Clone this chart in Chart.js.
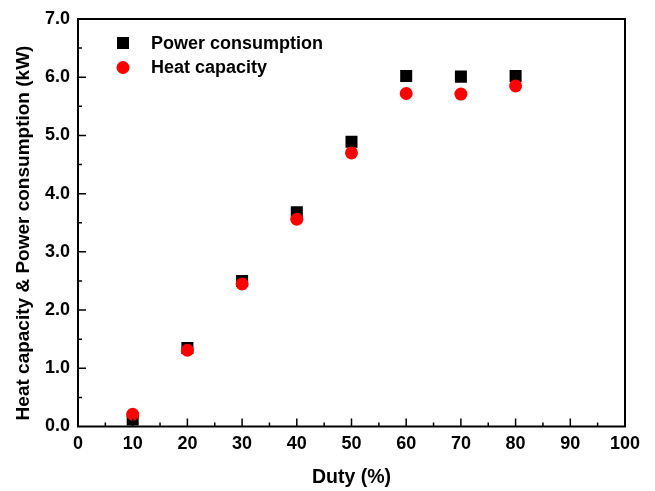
<!DOCTYPE html>
<html>
<head>
<meta charset="utf-8">
<script src="https://cdn.jsdelivr.net/npm/chart.js@4.4.1/dist/chart.umd.min.js"></script>
<style>
  html, body { margin: 0; padding: 0; background: #fff; }
  #wrap { width: 655px; height: 491px; }
</style>
</head>
<body>
<div id="wrap"><canvas id="chart" width="655" height="491"></canvas></div>
<script>
// values
const duty = [10, 20, 30, 40, 50, 60, 70, 80];
const powerConsumption = [0.12, 1.35, 2.50, 3.68, 4.89, 6.02, 6.01, 6.02];
const heatCapacity = [0.21, 1.31, 2.45, 3.56, 4.70, 5.72, 5.71, 5.85];
const xTicks = [0, 10, 20, 30, 40, 50, 60, 70, 80, 90, 100];
const yTicks = [0, 1, 2, 3, 4, 5, 6, 7];
const yTitle = "Heat capacity & Power consumption (kW)";

const FONT = "'Liberation Sans', Arial, sans-serif";

// frame + inward ticks + legend inside the plot + y title
const framePlugin = {
    id: "frame",
    afterDraw(chart) {
        const ctx = chart.ctx;
        const a = chart.chartArea;
        const xs = chart.scales.x;
        const ys = chart.scales.y;
        ctx.save();
        ctx.strokeStyle = "#000";
        ctx.lineWidth = 2;
        ctx.strokeRect(a.left, a.top, a.right - a.left, a.bottom - a.top);

        ctx.lineWidth = 1.5;
        ctx.beginPath();
        // x ticks (major every 10, minor every 5)
        for (let v = 5; v < 100; v += 5) {
            const px = xs.getPixelForValue(v);
            const len = v % 10 === 0 ? 8 : 4;
            ctx.moveTo(px, a.bottom);
            ctx.lineTo(px, a.bottom - len);
        }
        // y ticks (major every 1, minor every 0.5)
        for (let i = 1; i < 14; i++) {
            const v = i * 0.5;
            const py = ys.getPixelForValue(v);
            const len = i % 2 === 0 ? 8 : 4;
            ctx.moveTo(a.left, py);
            ctx.lineTo(a.left + len, py);
        }
        ctx.stroke();

        // legend
        ctx.font = "bold 18px " + FONT;
        ctx.textBaseline = "middle";
        ctx.fillStyle = "#000";
        const lx = 123, textX = 151;
        const rows = [43, 67.5];
        chart.data.datasets.forEach((ds, i) => {
            const y = rows[i];
            ctx.fillStyle = ds.backgroundColor;
            if (ds.pointStyle === "rect") {
                ctx.fillRect(lx - 6, y - 6, 12, 12);
            } else {
                ctx.beginPath();
                ctx.arc(lx, y, 6.5, 0, Math.PI * 2);
                ctx.fill();
            }
            ctx.fillStyle = "#000";
            ctx.fillText(ds.label, textX, y + 1);
        });

        // y axis title (sits a bit below the plot's centre in the original)
        ctx.translate(24, 233);
        ctx.rotate(-Math.PI / 2);
        ctx.font = "bold 19px " + FONT;
        ctx.textAlign = "center";
        ctx.textBaseline = "middle";
        ctx.fillText(yTitle, 0, 0);
        ctx.restore();
    }
};

new Chart(document.getElementById("chart"), {
    type: "scatter",
    data: {
        datasets: [
            {
                label: "Power consumption",
                data: duty.map((d, i) => ({ x: d, y: powerConsumption[i] })),
                pointStyle: "rect",
                pointRadius: 8.5,
                backgroundColor: "#000000",
                borderWidth: 0,
                order: 1,
            },
            {
                label: "Heat capacity",
                data: duty.map((d, i) => ({ x: d, y: heatCapacity[i] })),
                pointStyle: "circle",
                pointRadius: 6.5,
                backgroundColor: "#ff0000",
                borderWidth: 0,
                order: 0,
            },
        ],
    },
    options: {
        responsive: false,
        animation: false,
        devicePixelRatio: 1,
        layout: { padding: { left: 0, right: 30, top: 19, bottom: 0 } },
        plugins: {
            legend: { display: false },
            tooltip: { enabled: false },
        },
        scales: {
            x: {
                type: "linear",
                min: 0,
                max: 100,
                afterBuildTicks(scale) {
                    scale.ticks = xTicks.map(v => ({ value: v }));
                },
                afterFit(scale) { scale.height = 64.5; },
                grid: { display: false, drawTicks: false },
                border: { display: false },
                ticks: {
                    padding: 7,
                    color: "#000",
                    font: { family: FONT, size: 18, weight: "bold" },
                    callback: v => String(v),
                },
                title: {
                    display: true,
                    text: "Duty (%)",
                    color: "#000",
                    font: { family: FONT, size: 19.5, weight: "bold" },
                    padding: { top: 0, bottom: 2 },
                },
            },
            y: {
                type: "linear",
                min: 0,
                max: 7,
                afterBuildTicks(scale) {
                    scale.ticks = yTicks.map(v => ({ value: v }));
                },
                afterFit(scale) { scale.width = 78; },
                grid: { display: false, drawTicks: false },
                border: { display: false },
                ticks: {
                    padding: 8,
                    color: "#000",
                    font: { family: FONT, size: 18, weight: "bold" },
                    callback: v => Number(v).toFixed(1),
                },
                title: { display: false },
            },
        },
    },
    plugins: [framePlugin],
});
</script>
</body>
</html>
